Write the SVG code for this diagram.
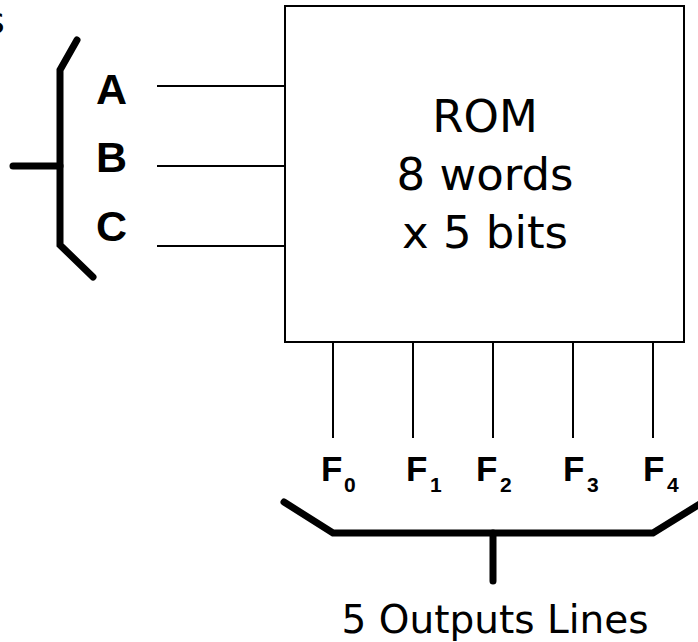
<svg xmlns="http://www.w3.org/2000/svg" width="698" height="642" viewBox="0 0 698 642">
<style>
.thin{stroke:#000;stroke-width:2;fill:none}
.bus{stroke:#000;stroke-width:7;fill:none;stroke-linecap:round;stroke-linejoin:miter}
.reg{font-family:"DejaVu Sans",sans-serif;fill:#000}
.bold{font-family:"Liberation Sans",Arial,sans-serif;font-weight:bold;fill:#000}
.f{font-size:35px}
.sub{font-size:21px}
</style>
<rect width="698" height="642" fill="#fff"/>
<text class="reg" x="-14" y="33" font-size="36">s</text>
<g id="rom">
<rect class="thin" x="285" y="6" width="399" height="336"/>
<text class="reg" font-size="45" text-anchor="middle" x="485" y="132">ROM</text>
<text class="reg" font-size="45" text-anchor="middle" x="485" y="190">8 words</text>
<text class="reg" font-size="45" text-anchor="middle" x="485" y="248">x 5 bits</text>
</g>
<g id="input-bus">
<path class="bus" d="M77,40 L60,70 L60,245 L93,277"/>
<path class="bus" d="M13,166 L60,166"/>
</g>
<g id="input-labels">
<text class="bold" x="96" y="104" font-size="43">A</text>
<text class="bold" x="96" y="172" font-size="43">B</text>
<text class="bold" x="96" y="241" font-size="43">C</text>
</g>
<g id="connectors">
<line class="thin" x1="157" y1="86" x2="285" y2="86"/>
<line class="thin" x1="157" y1="166" x2="285" y2="166"/>
<line class="thin" x1="157" y1="246" x2="285" y2="246"/>
<line class="thin" x1="333" y1="342" x2="333" y2="438"/>
<line class="thin" x1="413" y1="342" x2="413" y2="438"/>
<line class="thin" x1="493" y1="342" x2="493" y2="438"/>
<line class="thin" x1="573" y1="342" x2="573" y2="438"/>
<line class="thin" x1="653" y1="342" x2="653" y2="438"/>
</g>
<g id="output-labels">
<text class="bold f" x="321" y="481">F</text><text class="bold sub" x="344" y="492">0</text>
<text class="bold f" x="406" y="481">F</text><text class="bold sub" x="430" y="492">1</text>
<text class="bold f" x="476" y="481">F</text><text class="bold sub" x="500" y="492">2</text>
<text class="bold f" x="563" y="481">F</text><text class="bold sub" x="587" y="492">3</text>
<text class="bold f" x="643" y="481">F</text><text class="bold sub" x="667" y="492">4</text>
</g>
<g id="output-bus">
<path class="bus" d="M284,502 L333,533 L653,533 L703,502"/>
<path class="bus" d="M493,533 L493,581"/>
<text class="reg" x="495" y="633" font-size="39" text-anchor="middle">5 Outputs Lines</text>
</g>
</svg>
